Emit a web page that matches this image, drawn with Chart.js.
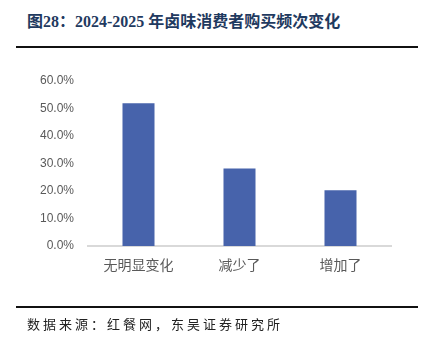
<!DOCTYPE html>
<html>
<head>
<meta charset="utf-8">
<script src="https://cdn.jsdelivr.net/npm/chart.js@4.4.0/dist/chart.umd.min.js"></script>
<style>
  html, body { margin: 0; padding: 0; background: #fff; }
  #wrap { position: relative; width: 438px; height: 346px; overflow: hidden; }
  #title {
    position: absolute; left: 27px; top: 12px; white-space: nowrap;
    font: bold 16px "Liberation Serif", "Noto Sans CJK SC", serif;
    color: #1F3A60; line-height: 20px;
  }
  .rule { position: absolute; left: 16px; width: 402px; height: 2px; background: #111; }
  #source {
    position: absolute; left: 27px; top: 316px; white-space: nowrap;
    font: 13px "Noto Sans CJK SC", sans-serif; color: #222; letter-spacing: 3px; line-height: 16px;
  }
  #box { position: absolute; left: 0; top: 0; width: 438px; height: 346px; }
</style>
</head>
<body>
<div id="wrap">
  <div id="title">图28：2024-2025 年卤味消费者购买频次变化</div>
  <div class="rule" style="top:46px"></div>
  <div id="box"><canvas id="grafico"></canvas></div>
  <div class="rule" style="top:306px"></div>
  <div id="source">数据来源：红餐网，东吴证券研究所</div>
</div>
<script>
// categorie e valori (quota di consumatori)
var categorie = ['无明显变化', '减少了', '增加了'];
var valori = [0.519, 0.282, 0.203];
var tick_y = [0, 0.1, 0.2, 0.3, 0.4, 0.5, 0.6];

var ctx = document.getElementById('grafico').getContext('2d');
var options = {
  type: 'bar',
  data: {
    labels: categorie,
    datasets: [{
      data: valori,
      backgroundColor: '#4763AB',
      borderWidth: 0,
      categoryPercentage: 1,
      barPercentage: 0.317
    }]
  },
  options: {
    responsive: true,
    maintainAspectRatio: false,
    animation: false,
    layout: { padding: { left: 33, right: 47, top: 81, bottom: 0 } },
    plugins: { legend: { display: false }, tooltip: { enabled: false } },
    scales: {
      x: {
        afterFit: function(s) { s.height = 100; },
        grid: { display: false, drawTicks: false },
        border: { display: true, color: '#D9D9D9', width: 2 },
        ticks: {
          padding: 10,
          color: '#595959',
          font: { family: '"Noto Sans CJK SC", sans-serif', size: 14 }
        }
      },
      y: {
        min: 0,
        max: 0.6,
        afterFit: function(s) { s.width = 55; },
        afterBuildTicks: function(s) { s.ticks = tick_y.map(function(v){ return { value: v }; }); },
        grid: { display: false, drawTicks: false },
        border: { display: false },
        ticks: {
          padding: 14,
          color: '#595959',
          font: { family: '"Liberation Sans", Arial, sans-serif', size: 12 },
          callback: function(v) { return (v * 100).toFixed(1) + '%'; }
        }
      }
    }
  }
};
window.graficoBarre = new Chart(ctx, options);
</script>
</body>
</html>
